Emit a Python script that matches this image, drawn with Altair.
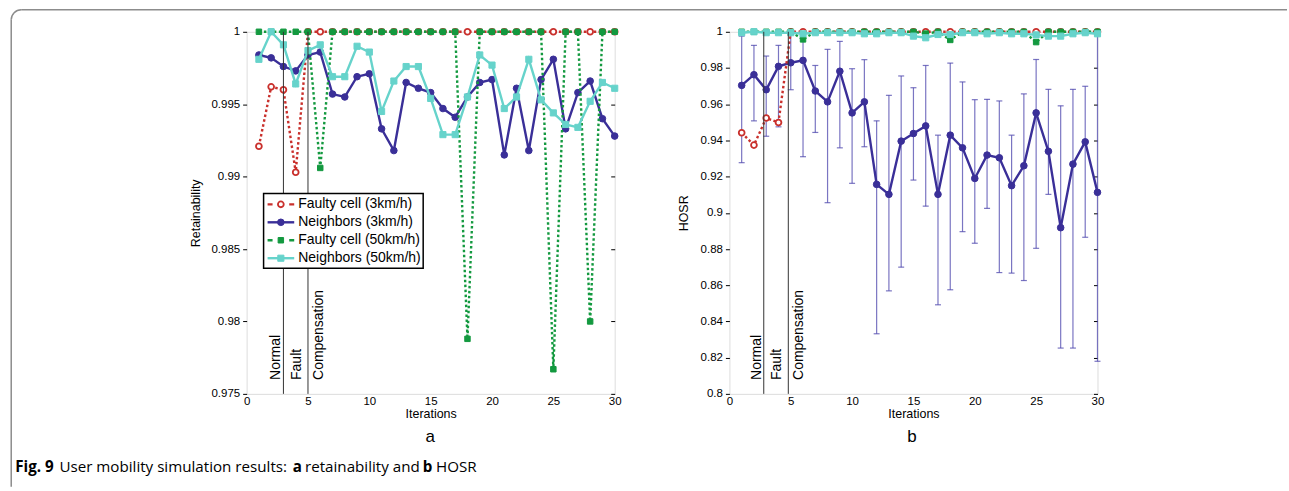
import altair as alt
import pandas as pd

# ---------------- data ----------------
ITER = list(range(1, 31))
SERIES = ["Faulty cell (3km/h)", "Neighbors (3km/h)", "Faulty cell (50km/h)", "Neighbors (50km/h)"]

ret_fault_3 = [0.9921, 0.9962, 0.9960, 0.9903] + [1.0] * 26
ret_neigh_3 = [0.9984, 0.9982, 0.9976, 0.9973, 0.9984, 0.9986, 0.9957, 0.9955, 0.9969, 0.9971,
               0.9933, 0.9918, 0.9965, 0.9961, 0.9958, 0.9947, 0.9941, 0.9955, 0.9965, 0.9967,
               0.9915, 0.9961, 0.9918, 0.9967, 0.9981, 0.9933, 0.9958, 0.9966, 0.9940, 0.9928]
ret_fault_50 = [1.0, 1.0, 1.0, 1.0, 1.0, 0.9906, 1.0, 1.0, 1.0, 1.0,
                1.0, 1.0, 1.0, 1.0, 1.0, 1.0, 1.0, 0.9788, 1.0, 1.0,
                1.0, 1.0, 1.0, 1.0, 0.9767, 1.0, 1.0, 0.9800, 1.0, 1.0]
ret_neigh_50 = [0.9981, 1.0000, 0.9991, 0.9964, 0.9987, 0.9991, 0.9969, 0.9969, 0.9990, 0.9986,
                0.9945, 0.9966, 0.9976, 0.9976, 0.9954, 0.9929, 0.9929, 0.9955, 0.9984, 0.9977,
                0.9947, 0.9955, 0.9981, 0.9953, 0.9944, 0.9936, 0.9934, 0.9952, 0.9965, 0.9961]

hosr_fault_3 = [0.9442, 0.9374, 0.9524, 0.9499] + [1.0] * 26
hosr_neigh_3 = [0.9704, 0.9763, 0.9680, 0.9809, 0.9829, 0.9842, 0.9673, 0.9613, 0.9782, 0.9552,
                0.9613, 0.9157, 0.9102, 0.9396, 0.9438, 0.9480, 0.9102, 0.9429, 0.9359, 0.9190,
                0.9319, 0.9304, 0.9150, 0.9260, 0.9552, 0.9340, 0.8918, 0.9269, 0.9392, 0.9113]
hosr_neigh_3_hi = [0.9976, 0.9925, 0.9866, 0.9925, 1.0000, 1.0000, 0.9814, 0.9903, 0.9947, 0.9796,
                   0.9846, 0.9508, 0.9649, 0.9756, 0.9691, 0.9814, 0.9429, 0.9827, 0.9723, 0.9625,
                   0.9627, 0.9618, 0.9429, 0.9657, 0.9847, 0.9682, 0.9591, 0.9682, 0.9699, 0.9980]
hosr_neigh_3_lo = [0.9277, 0.9508, 0.9423, 0.9475, 0.9680, 0.9310, 0.9444, 0.9056, 0.9359, 0.9163,
                   0.9365, 0.8332, 0.8569, 0.8700, 0.9181, 0.9037, 0.8492, 0.8575, 0.8896, 0.8832,
                   0.9025, 0.8670, 0.8667, 0.8626, 0.8804, 0.9102, 0.8253, 0.8253, 0.8865, 0.8180]
hosr_fault_50 = [1.0, 1.0, 1.0, 1.0, 1.0, 0.9958, 1.0, 1.0, 1.0, 1.0,
                 1.0, 1.0, 1.0, 1.0, 1.0, 0.9990, 1.0, 0.9955, 1.0, 1.0,
                 1.0, 1.0, 1.0, 1.0, 0.9943, 1.0, 1.0, 1.0, 1.0, 1.0]
hosr_neigh_50 = [0.9995, 1.0000, 0.9995, 0.9995, 0.9995, 0.9989, 0.9995, 0.9995, 0.9995, 0.9995,
                 0.9989, 0.9989, 0.9995, 0.9995, 0.9976, 0.9967, 0.9985, 0.9985, 0.9995, 0.9995,
                 0.9989, 0.9995, 0.9989, 0.9989, 0.9983, 0.9976, 0.9976, 0.9989, 0.9995, 0.9989]

X_TICKS = [0, 5, 10, 15, 20, 25, 30]
RET_TICKS = [0.975, 0.98, 0.985, 0.99, 0.995, 1.0]
HOSR_TICKS = [0.8, 0.82, 0.84, 0.86, 0.88, 0.9, 0.92, 0.94, 0.96, 0.98, 1.0]
PHASE_A = [3, 5]
PHASE_B = [2.8, 4.8]
PHASE_LABELS = ["Normal", "Fault", "Compensation"]
CAPTION = [("Fig. 9", "bold"), ("User mobility simulation results:", "normal"), ("a", "bold"),
           ("retainability and", "normal"), ("b", "bold"), ("HOSR", "normal")]

# ---------------- styles ----------------
COLORS = ["#c9302c", "#3a2f98", "#13993f", "#66d3cb"]
FILLS = ["#ffffff", "#3a2f98", "#13993f", "#66d3cb"]
SHAPES = ["circle", "circle", "square", "square"]
SIZES = [34, 44, 30, 38]
DASHED = [True, False, True, False]
W, H = 369, 363
FONT = "Liberation Sans"
CAP_FONT = "Open Sans"

XAXIS = alt.Axis(values=X_TICKS, title="Iterations", grid=False, ticks=False, domain=False,
                 labelPadding=2, labelFont=FONT, labelFontSize=11.5, labelColor="#000",
                 labelFlush=False, labelOverlap=False,
                 titleFont=FONT, titleFontSize=12.5, titleFontWeight="normal", titleColor="#000",
                 titlePadding=0)


def xenc(field="it"):
    return alt.X(f"{field}:Q", scale=alt.Scale(domain=[0, 30], nice=False, zero=False), axis=XAXIS)


def yenc(dom, axis=None, field="v"):
    return alt.Y(f"{field}:Q", scale=alt.Scale(domain=dom, nice=False, zero=False), axis=axis)


def left_axis(ticks, fmt, title, tpad):
    return alt.Axis(values=ticks, format=fmt, title=title, grid=False, domain=False,
                    tickSize=4, tickColor="#000", tickWidth=1, labelPadding=3,
                    labelFont=FONT, labelFontSize=11.5, labelColor="#000", labelFlush=False,
                    labelOverlap=False,
                    titleFont=FONT, titleFontSize=12.5, titleFontWeight="normal",
                    titleColor="#000", titlePadding=tpad)


def right_axis(ticks):
    return alt.Axis(values=ticks, orient="right", labels=False, title=None, grid=False,
                    domain=False, tickSize=4, offset=-4, tickColor="#000", tickWidth=1)


def series_layers(values, i, dom, laxis=None, raxis=None):
    df = pd.DataFrame({"it": ITER, "v": values})
    lk = dict(color=COLORS[i], strokeWidth=2.4)
    if DASHED[i]:
        lk["strokeDash"] = [2.5, 2.5]
    line = alt.Chart(df).mark_line(**lk).encode(x=xenc(), y=yenc(dom, laxis))
    pk = dict(shape=SHAPES[i], filled=True, size=SIZES[i], opacity=1, fill=FILLS[i],
              stroke=COLORS[i], strokeWidth=1.8 if i == 0 else 1)
    pts = alt.Chart(df).mark_point(**pk).encode(x=xenc(), y=yenc(dom, raxis))
    return [line, pts]


def phase_layers(pos):
    layers = [alt.Chart(pd.DataFrame({"it": pos})).mark_rule(color="#333", strokeWidth=1)
              .encode(x=xenc())]
    anchors = [pos[0], pos[1], pos[1]]
    dys = [-3, -7, 15]
    for lab, a, dy in zip(PHASE_LABELS, anchors, dys):
        layers.append(
            alt.Chart(pd.DataFrame({"it": [a], "t": [lab]}))
            .mark_text(angle=270, align="left", baseline="alphabetic", dy=dy, fontSize=14,
                       font=FONT, color="#000")
            .encode(x=xenc(), y=alt.value(349), text="t:N"))
    return layers


def txt(s, x, y, size, weight="normal", font=FONT, align="left"):
    return (alt.Chart(pd.DataFrame({"t": [s]}))
            .mark_text(align=align, baseline="middle", fontSize=size, fontWeight=weight,
                       font=font, color="#000")
            .encode(x=alt.value(x), y=alt.value(y), text="t:N"))


# ---------------- panel a ----------------
RET_DOM = [0.975, 1.0]
la = []
la += series_layers(ret_fault_3, 0, RET_DOM,
                    laxis=left_axis(RET_TICKS, ".3~f", "Retainability", 8),
                    raxis=right_axis(RET_TICKS))
la += series_layers(ret_neigh_3, 1, RET_DOM)
la += series_layers(ret_fault_50, 2, RET_DOM)
la += series_layers(ret_neigh_50, 3, RET_DOM)
la += phase_layers(PHASE_A)

# legend (drawn inside panel a)
one = pd.DataFrame({"k": [0]})
la.append(alt.Chart(one).mark_rect(fill="#ffffff", stroke="#000", strokeWidth=1.5)
          .encode(x=alt.value(17), x2=alt.value(177), y=alt.value(162), y2=alt.value(237)))
for i, name in enumerate(SERIES):
    ry = 173 + 18 * i
    rk = dict(color=COLORS[i], strokeWidth=2.4)
    if DASHED[i]:
        rk["strokeDash"] = [5, 16.7, 5]
    la.append(alt.Chart(one).mark_rule(**rk)
              .encode(x=alt.value(21), x2=alt.value(47.7), y=alt.value(ry)))
    la.append(alt.Chart(one).mark_point(shape=SHAPES[i], filled=True, size=SIZES[i], opacity=1,
                                        fill=FILLS[i], stroke=COLORS[i],
                                        strokeWidth=1.8 if i == 0 else 1)
              .encode(x=alt.value(34.3), y=alt.value(ry)))
    la.append(txt(name, 51.7, ry, 14))

# frame around the figure
la.append(alt.Chart(one).mark_rule(color="#8c8c8c", strokeWidth=1.5)
          .encode(x=alt.value(-226), x2=alt.value(1043), y=alt.value(-22)))
la.append(alt.Chart(one).mark_rule(color="#8c8c8c", strokeWidth=1.5)
          .encode(x=alt.value(-236), y=alt.value(-12), y2=alt.value(456)))
la.append(alt.Chart(one).mark_arc(radius=10, radius2=10, theta=4.7124, theta2=6.2832,
                                  fill="#ffffff", fillOpacity=0, stroke="#8c8c8c",
                                  strokeWidth=1.5)
          .encode(x=alt.value(-226), y=alt.value(-12)))

# sub label and caption
la.append(txt("a", 184, 406, 17, align="center"))
cap_x = [-232, -187.7, 46.2, 58.5, 176.5, 189.8]
for (s, wgt), cx in zip(CAPTION, cap_x):
    la.append(txt(s, cx, 436, 15.2, weight=wgt, font=CAP_FONT))

panel_a = alt.layer(*la).resolve_axis(y="independent").properties(width=W, height=H)

# ---------------- panel b ----------------
HOSR_DOM = [0.8, 1.0]
err = pd.DataFrame({"it": ITER, "lo": hosr_neigh_3_lo, "hi": hosr_neigh_3_hi})
lb = []
lb.append(alt.Chart(err).mark_rule(color="#4d47ad", strokeWidth=1.2, opacity=0.75)
          .encode(x=xenc(), y=yenc(HOSR_DOM, left_axis(HOSR_TICKS, ".2~f", "HOSR", 10), "lo"),
                  y2="hi:Q"))
for f in ["lo", "hi"]:
    lb.append(alt.Chart(err).mark_tick(orient="horizontal", size=6, thickness=1.2,
                                       color="#4d47ad", opacity=0.75)
              .encode(x=xenc(), y=yenc(HOSR_DOM, None, f)))
lb += series_layers(hosr_neigh_3, 1, HOSR_DOM, raxis=right_axis(HOSR_TICKS))
lb += series_layers(hosr_fault_3, 0, HOSR_DOM)
lb += series_layers(hosr_fault_50, 2, HOSR_DOM)
lb += series_layers(hosr_neigh_50, 3, HOSR_DOM)
lb += phase_layers(PHASE_B)
lb.append(txt("b", 183, 406, 17, align="center"))

panel_b = alt.layer(*lb).resolve_axis(y="independent").properties(width=W, height=H)

chart = (alt.hconcat(panel_a, panel_b, spacing=115, bounds="flush")
         .properties(padding={"left": 7.25, "top": 5.25, "right": 0, "bottom": 0})
         .configure_view(stroke="#000", strokeWidth=1.2)
         .configure(background="#ffffff"))

chart.save("out.html", embed_options={"renderer": "svg", "actions": False})
